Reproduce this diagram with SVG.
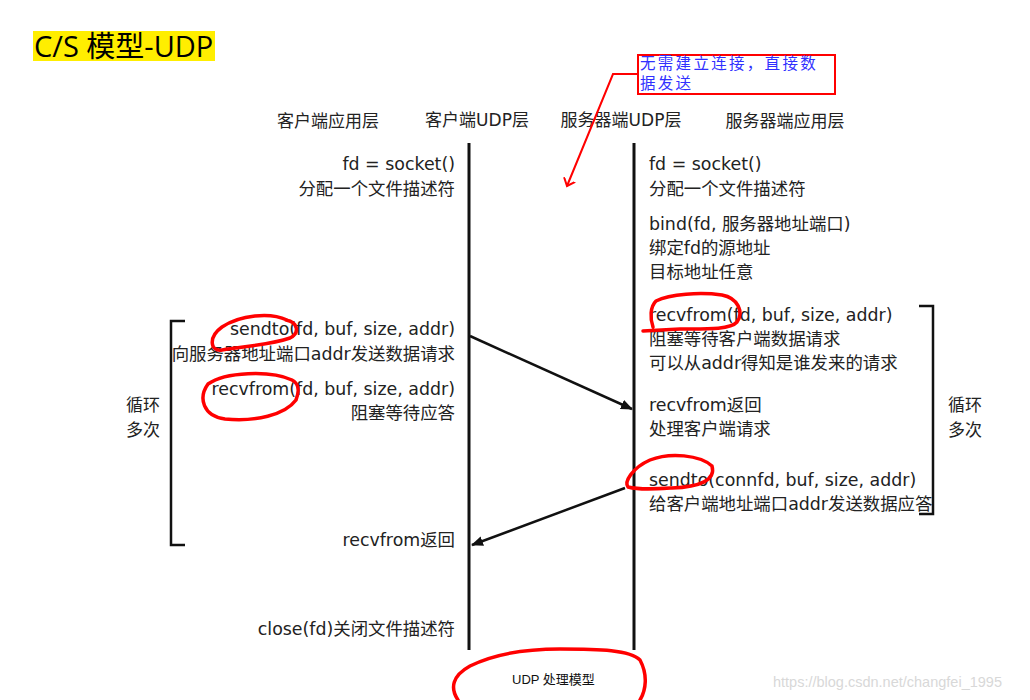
<svg xmlns="http://www.w3.org/2000/svg" width="1030" height="700" viewBox="0 0 1030 700">
<defs>
<style>
.t{font-family:"DejaVu Sans","Noto Sans CJK SC",sans-serif;font-size:17.4px;fill:#222;}
.r{text-anchor:end;}
.h{font-family:"DejaVu Sans","Noto Sans CJK SC",sans-serif;font-size:17px;fill:#222;text-anchor:middle;}
.life{stroke:#111;stroke-width:3;fill:none;}
.br{stroke:#111;stroke-width:2.5;fill:none;}
.msg{stroke:#111;stroke-width:2.5;fill:none;}
.red{stroke:#f00;stroke-width:3.5;fill:none;stroke-linecap:round;stroke-linejoin:round;}
.note{font-family:"Noto Sans CJK SC",serif;font-size:15.5px;letter-spacing:2.3px;fill:#3030ff;}
</style>
<marker id="ah" markerWidth="12" markerHeight="10" refX="11" refY="5" orient="auto" markerUnits="userSpaceOnUse">
<path d="M0,0 L12,5 L0,10 Z" fill="#111"/>
</marker>
<marker id="rah" markerWidth="14" markerHeight="14" refX="7" refY="7" orient="auto" markerUnits="userSpaceOnUse">
<path d="M0,1 L7,7 L0,13" fill="none" stroke="#f00" stroke-width="2"/>
</marker>
</defs>
<rect width="1030" height="700" fill="#fff"/>

<g id="title">
<rect x="33" y="31" width="182" height="30" fill="#ffee00"/>
<text x="34" y="57" style="font-family:'Open Sans','Noto Sans CJK SC',sans-serif;font-size:29px;fill:#000;">C/S 模型-UDP</text>
</g>

<g id="headers">
<text class="h" x="328" y="127">客户端应用层</text>
<text class="h" x="477" y="126">客户端UDP层</text>
<text class="h" x="621" y="126">服务器端UDP层</text>
<text class="h" x="785" y="127">服务器端应用层</text>
</g>

<g id="lifelines">
<line class="life" x1="469" y1="143" x2="469" y2="650"/>
<line class="life" x1="634" y1="143" x2="634" y2="650"/>
</g>

<g id="client-app">
<text class="t r" x="455" y="170">fd = socket()</text>
<text class="t r" x="455" y="195">分配一个文件描述符</text>
<text class="t r" x="455" y="335">sendto(fd, buf, size, addr)</text>
<text class="t r" x="455" y="360">向服务器地址端口addr发送数据请求</text>
<text class="t r" x="455" y="395">recvfrom(fd, buf, size, addr)</text>
<text class="t r" x="455" y="419">阻塞等待应答</text>
<text class="t r" x="455" y="546">recvfrom返回</text>
<text class="t r" x="455" y="635">close(fd)关闭文件描述符</text>
</g>

<g id="server-app">
<text class="t" x="649" y="170">fd = socket()</text>
<text class="t" x="649" y="195">分配一个文件描述符</text>
<text class="t" x="649" y="230">bind(fd, 服务器地址端口)</text>
<text class="t" x="649" y="254">绑定fd的源地址</text>
<text class="t" x="649" y="278">目标地址任意</text>
<text class="t" x="649" y="321">recvfrom(fd, buf, size, addr)</text>
<text class="t" x="649" y="345">阻塞等待客户端数据请求</text>
<text class="t" x="649" y="369">可以从addr得知是谁发来的请求</text>
<text class="t" x="649" y="411">recvfrom返回</text>
<text class="t" x="649" y="435">处理客户端请求</text>
<text class="t" x="649" y="486">sendto(connfd, buf, size, addr)</text>
<text class="t" x="649" y="510">给客户端地址端口addr发送数据应答</text>
</g>

<g id="loop-left">
<path class="br" d="M185,321 L171,321 L171,545 L185,545"/>
<text class="h" x="143" y="411">循环</text>
<text class="h" x="143" y="436">多次</text>
</g>

<g id="loop-right">
<path class="br" d="M919,306 L933,306 L933,514 L919,514"/>
<text class="h" x="965" y="411">循环</text>
<text class="h" x="965" y="436">多次</text>
</g>

<g id="connectors">
<line class="msg" x1="470" y1="336" x2="632" y2="409" marker-end="url(#ah)"/>
<line class="msg" x1="625" y1="488" x2="472" y2="545" marker-end="url(#ah)"/>
</g>

<g id="note">
<rect x="638" y="55" width="197" height="39" fill="none" stroke="#f00" stroke-width="2"/>
<text class="note" x="640" y="69">无需建立连接，直接数</text>
<text class="note" x="640" y="89">据发送</text>
<path d="M637,74 L613,74 L567,186" fill="none" stroke="#f00" stroke-width="2" marker-end="url(#rah)"/>
</g>

<g id="red-marks">
<path class="red" d="M287,320 C270,312 240,315 222,327 C208,337 210,352 222,350 C245,346 270,345 290,338 C300,333 298,322 286,320"/>
<path class="red" d="M292,380 C270,370 225,372 208,384 C198,398 203,416 225,419 C255,422 285,415 296,400 C300,390 298,383 292,380"/>
<path class="red" d="M643,331 L680,329 C705,329 730,330 737,322 C744,312 738,298 722,295 C700,292 670,294 656,301 C650,307 650,318 653,327"/>
<path class="red" d="M712,466 C700,455 670,452 650,460 C632,468 624,482 628,487 C640,490 655,489 672,488 C700,487 716,480 712,466"/>
<path class="red" d="M458,700 C450,688 452,676 470,666 C490,656 520,649 560,649 C600,649 630,650 640,660 C648,675 646,690 640,700"/>
</g>

<g id="caption">
<text x="512" y="684" style="font-family:'Liberation Sans','Noto Sans CJK SC',sans-serif;font-size:13px;fill:#111;">UDP 处理模型</text>
<text x="773" y="687" style="font-family:'Liberation Sans',sans-serif;font-size:14.5px;fill:#d8d8d8;">https://blog.csdn.net/changfei_1995</text>
</g>
</svg>
